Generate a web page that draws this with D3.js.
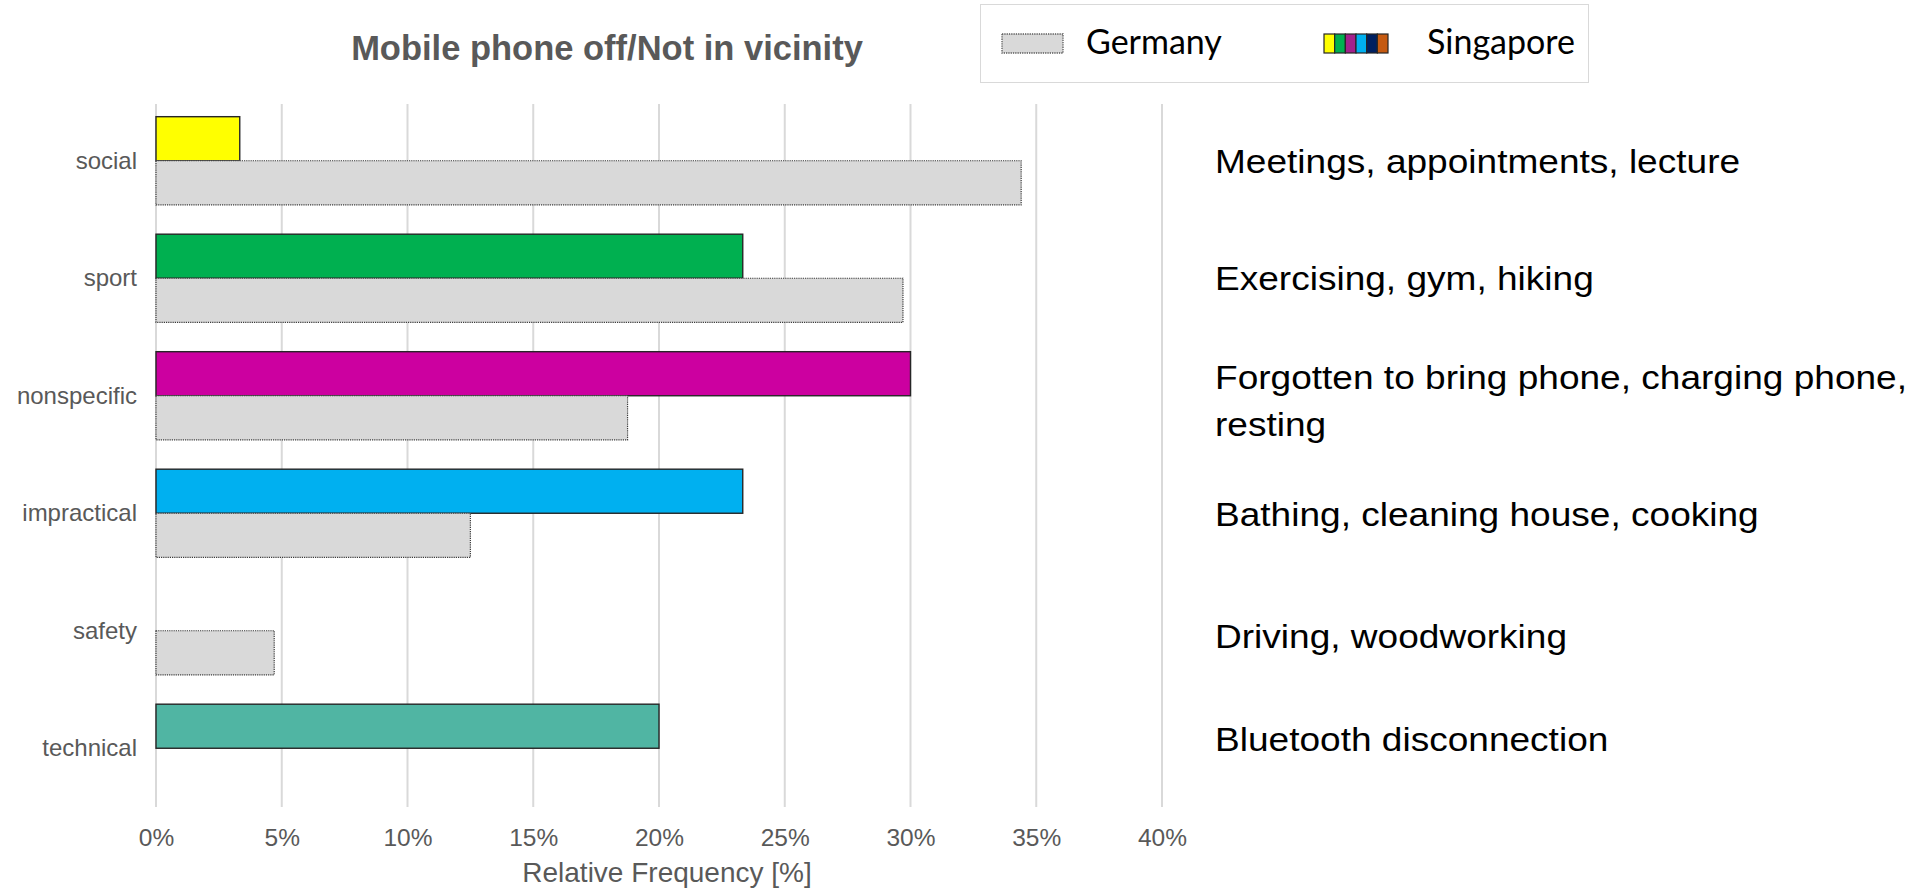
<!DOCTYPE html>
<html>
<head>
<meta charset="utf-8">
<script src="https://cdn.jsdelivr.net/npm/d3@7/dist/d3.min.js"></script>
<style>
  html, body { margin: 0; padding: 0; background: #ffffff; }
  svg { display: block; }
</style>
</head>
<body>
<script>
// ---------- data ----------
const categories = ["social", "sport", "nonspecific", "impractical", "safety", "technical"];
const germanyValues = [34.4, 29.7, 18.75, 12.5, 4.7, 0];
const singaporeValues = [3.33, 23.33, 30.0, 23.33, 0, 20.0];
const singaporeColors = ["#FFFF00", "#00B050", "#CC00A0", "#00B0F0", "#002060", "#50B5A3"];
const descriptions = [
  ["Meetings, appointments, lecture"],
  ["Exercising, gym, hiking"],
  ["Forgotten to bring phone, charging phone,", "resting"],
  ["Bathing, cleaning house, cooking"],
  ["Driving, woodworking"],
  ["Bluetooth disconnection"]
];
const xTickValues = [0, 5, 10, 15, 20, 25, 30, 35, 40];
const legendLabels = ["Germany", "Singapore"];
const legendSwatchColors = ["#FFFF00", "#00B050", "#A3218C", "#00B0F0", "#002060", "#C55A11"];
const titleText = "Mobile phone off/Not in vicinity";
const xAxisTitle = "Relative Frequency [%]";

// ---------- layout ----------
const W = 1924, H = 889;
const plot = { left: 156, right: 1162, top: 102, bottom: 807 };
const gridTop = 104;

const svg = d3.select("body").append("svg").attr("width", W).attr("height", H);

const x = d3.scaleLinear().domain([0, 40]).range([plot.left, plot.right]);
const y = d3.scaleBand().domain(categories).range([plot.top, plot.bottom])
  .paddingInner(0.25).paddingOuter(0.125);
const half = y.bandwidth() / 2;

// gridlines
svg.append("g").selectAll("line").data(xTickValues).join("line")
  .attr("x1", d => x(d)).attr("x2", d => x(d))
  .attr("y1", gridTop).attr("y2", plot.bottom)
  .attr("stroke", "#D9D9D9").attr("stroke-width", 2);

// x axis tick labels
const xAxis = d3.axisBottom(x).tickValues(xTickValues).tickFormat(d => d + "%").tickSize(0).tickPadding(0);
const gx = svg.append("g").attr("transform", `translate(0, ${plot.bottom})`).call(xAxis);
gx.select(".domain").remove();
gx.selectAll("text")
  .attr("dy", null).attr("y", 39)
  .attr("font-family", "'Liberation Sans', Arial, sans-serif")
  .attr("font-size", 24.5).attr("fill", "#595959");

// category labels (boundary between the two bars)
const yAxis = d3.axisLeft(y).tickSize(0).tickPadding(0);
const gy = svg.append("g").attr("transform", `translate(${plot.left - 19}, 0)`).call(yAxis);
gy.select(".domain").remove();
gy.selectAll(".tick").attr("transform", d => `translate(0, ${y(d) + half})`);
gy.selectAll("text")
  .attr("dy", null).attr("y", 8).attr("x", 0)
  .attr("font-family", "'Liberation Sans', Arial, sans-serif")
  .attr("font-size", 24).attr("fill", "#595959");

// Singapore bars (top half)
const sgData = categories.map((c, i) => ({ c, v: singaporeValues[i], color: singaporeColors[i] })).filter(d => d.v > 0);
svg.append("g").selectAll("rect").data(sgData).join("rect")
  .attr("x", x(0)).attr("y", d => y(d.c))
  .attr("width", d => x(d.v) - x(0)).attr("height", half)
  .attr("fill", d => d.color)
  .attr("stroke", "#262626").attr("stroke-width", 1.4);

// Germany bars (bottom half)
const deData = categories.map((c, i) => ({ c, v: germanyValues[i] })).filter(d => d.v > 0);
svg.append("g").selectAll("rect").data(deData).join("rect")
  .attr("x", x(0)).attr("y", d => y(d.c) + half)
  .attr("width", d => x(d.v) - x(0)).attr("height", half)
  .attr("fill", "#D9D9D9")
  .attr("stroke", "#3a3a3a").attr("stroke-width", 1.2).attr("stroke-dasharray", "1.2,1");

// title
svg.append("text")
  .attr("x", 607).attr("y", 60).attr("text-anchor", "middle")
  .attr("font-family", "'Liberation Sans', Arial, sans-serif")
  .attr("font-weight", "bold").attr("font-size", 34.5).attr("fill", "#595959")
  .text(titleText);

// x axis title
svg.append("text")
  .attr("x", x(20) + 8).attr("y", 882).attr("text-anchor", "middle")
  .attr("font-family", "'Liberation Sans', Arial, sans-serif")
  .attr("font-size", 28).attr("fill", "#595959")
  .text(xAxisTitle);

// descriptions on the right
const descOffsets = [12, 12, -7, 13, 17, 3];
const descG = svg.append("g");
descriptions.forEach((lines, i) => {
  const cy = y(categories[i]) + half + descOffsets[i];
  lines.forEach((line, j) => {
    descG.append("text")
      .attr("transform", `translate(1215, ${cy + j * 47}) scale(1.09, 1)`)
      .attr("font-family", "'Liberation Sans', Arial, sans-serif")
      .attr("font-size", 34).attr("fill", "#000000")
      .text(line);
  });
});

// legend
const lg = svg.append("g");
lg.append("rect").attr("x", 980.5).attr("y", 4.5).attr("width", 608).attr("height", 78)
  .attr("fill", "#ffffff").attr("stroke", "#D9D9D9").attr("stroke-width", 1);
lg.append("rect").attr("x", 1002).attr("y", 34).attr("width", 61).attr("height", 19)
  .attr("fill", "#D9D9D9").attr("stroke", "#595959").attr("stroke-width", 1.3).attr("stroke-dasharray", "1.3,1");
const segW = 64 / legendSwatchColors.length;
lg.selectAll(".seg").data(legendSwatchColors).join("rect").attr("class", "seg")
  .attr("x", (d, i) => 1324 + i * segW).attr("y", 34).attr("width", segW).attr("height", 19)
  .attr("fill", d => d).attr("stroke", "#262626").attr("stroke-width", 1.2);
lg.selectAll(".lt").data(legendLabels).join("text").attr("class", "lt")
  .attr("x", (d, i) => i === 0 ? 1086 : 1427).attr("y", 54)
  .attr("font-family", "Lato, 'Open Sans', sans-serif")
  .attr("font-size", 34).attr("fill", "#000000")
  .text(d => d);
</script>
</body>
</html>
